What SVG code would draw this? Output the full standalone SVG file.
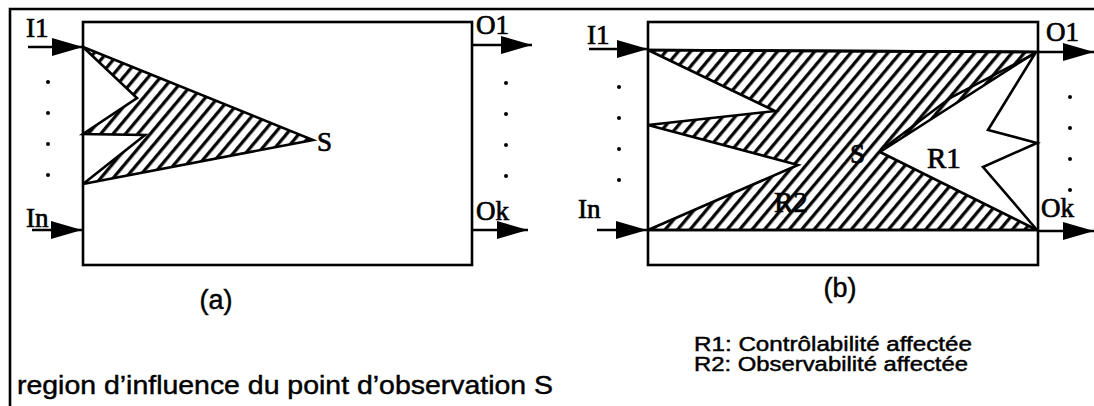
<svg xmlns="http://www.w3.org/2000/svg" width="1094" height="406" viewBox="0 0 1094 406">
<style>
.ln{fill:none;stroke:#000;stroke-width:2.6;stroke-linejoin:miter}
.lbl{font-family:"Liberation Serif","Times New Roman",serif;font-size:27px;fill:#000;stroke:#000;stroke-width:0.7}
.big{font-size:29px}
.cap{font-family:"Liberation Sans",Arial,sans-serif;fill:#000;stroke:#000;stroke-width:0.45}
.dot{fill:#000}
.hatch{fill:url(#hatch);stroke:#000;stroke-width:2.6;stroke-linejoin:miter}
</style>
<defs>
<pattern id="hatch" patternUnits="userSpaceOnUse" width="9.5" height="10" patternTransform="rotate(40)">
<rect width="9.5" height="10" fill="#fff"/>
<line x1="1.7" y1="-1" x2="1.7" y2="11" stroke="#000" stroke-width="3.2"/>
</pattern>
<marker id="ah" markerUnits="userSpaceOnUse" markerWidth="32" markerHeight="19" refX="31" refY="9" orient="auto">
<path d="M0,0 L31,9 L0,18 Z" fill="#000"/>
</marker>
</defs>
<rect width="1094" height="406" fill="#fff"/>
<g id="frame">
<path class="ln" d="M10,406 V9 H1094" stroke-width="2.2"/>
</g>
<g id="box-a">
<rect class="ln" x="83" y="22" width="389" height="243"/>
<polygon class="hatch" points="83,47 313,140 83,184 145,135 83,134 137,98"/>
<text class="lbl" x="317" y="151">S</text>
</g>
<g id="box-b">
<rect class="ln" x="648" y="22" width="390" height="243"/>
<polygon class="hatch" points="648,50 1036,52 880,152 1037,230 648,230 798,165 648,125 775,111"/>
<polyline class="ln" points="1036,52 988,130 1037,143 983,167 1037,230"/>
<polyline class="ln" points="1034,54 950,98 884,148" stroke-width="2"/>
<line class="ln" x1="648" y1="50" x2="1038" y2="52"/>
<line class="ln" x1="648" y1="230" x2="1038" y2="230"/>
<text class="lbl" x="850" y="163">S</text>
<text class="lbl big" x="927" y="168">R1</text>
<text class="lbl big" x="774" y="212">R2</text>
</g>
<g id="connectors">
<line class="ln" x1="28" y1="47" x2="83" y2="47" marker-end="url(#ah)"/>
<line class="ln" x1="32" y1="230" x2="82" y2="230" marker-end="url(#ah)"/>
<line class="ln" x1="472" y1="45" x2="532" y2="45" marker-end="url(#ah)"/>
<line class="ln" x1="472" y1="230" x2="528" y2="230" marker-end="url(#ah)"/>
<line class="ln" x1="589" y1="49" x2="648" y2="49" marker-end="url(#ah)"/>
<line class="ln" x1="597" y1="230" x2="647" y2="230" marker-end="url(#ah)"/>
<line class="ln" x1="1038" y1="52" x2="1094" y2="52" marker-end="url(#ah)"/>
<line class="ln" x1="1038" y1="231" x2="1094" y2="231" marker-end="url(#ah)"/>
</g>
<g id="port-labels">
<text class="lbl" x="26" y="37">I1</text>
<text class="lbl" x="26" y="227">In</text>
<text class="lbl" x="476" y="34">O1</text>
<text class="lbl" x="476" y="220">Ok</text>
<text class="lbl" x="587" y="44">I1</text>
<text class="lbl" x="578" y="218">In</text>
<text class="lbl" x="1046" y="41">O1</text>
<text class="lbl" x="1041" y="217">Ok</text>
</g>
<g id="dots">
<circle class="dot" cx="48" cy="82" r="2"/><circle class="dot" cx="48" cy="113" r="2"/><circle class="dot" cx="48" cy="144" r="2"/><circle class="dot" cx="48" cy="175" r="2"/>
<circle class="dot" cx="506" cy="83" r="2"/><circle class="dot" cx="506" cy="114" r="2"/><circle class="dot" cx="506" cy="145" r="2"/><circle class="dot" cx="506" cy="176" r="2"/>
<circle class="dot" cx="619" cy="87" r="2"/><circle class="dot" cx="619" cy="118" r="2"/><circle class="dot" cx="619" cy="149" r="2"/><circle class="dot" cx="619" cy="180" r="2"/>
<circle class="dot" cx="1070" cy="97" r="2"/><circle class="dot" cx="1070" cy="128" r="2"/><circle class="dot" cx="1070" cy="159" r="2"/><circle class="dot" cx="1070" cy="190" r="2"/>
</g>
<g id="captions">
<text class="cap" x="216" y="309" font-size="27" text-anchor="middle">(a)</text>
<text class="cap" x="840" y="297" font-size="27" text-anchor="middle">(b)</text>
<text class="cap" x="694" y="351" font-size="20" textLength="278" lengthAdjust="spacingAndGlyphs">R1: Contrôlabilité affectée</text>
<text class="cap" x="694" y="371" font-size="20" textLength="274" lengthAdjust="spacingAndGlyphs">R2: Observabilité affectée</text>
<text class="cap" x="17" y="394" font-size="26" textLength="536" lengthAdjust="spacingAndGlyphs">region d’influence du point d’observation S</text>
</g>
</svg>
